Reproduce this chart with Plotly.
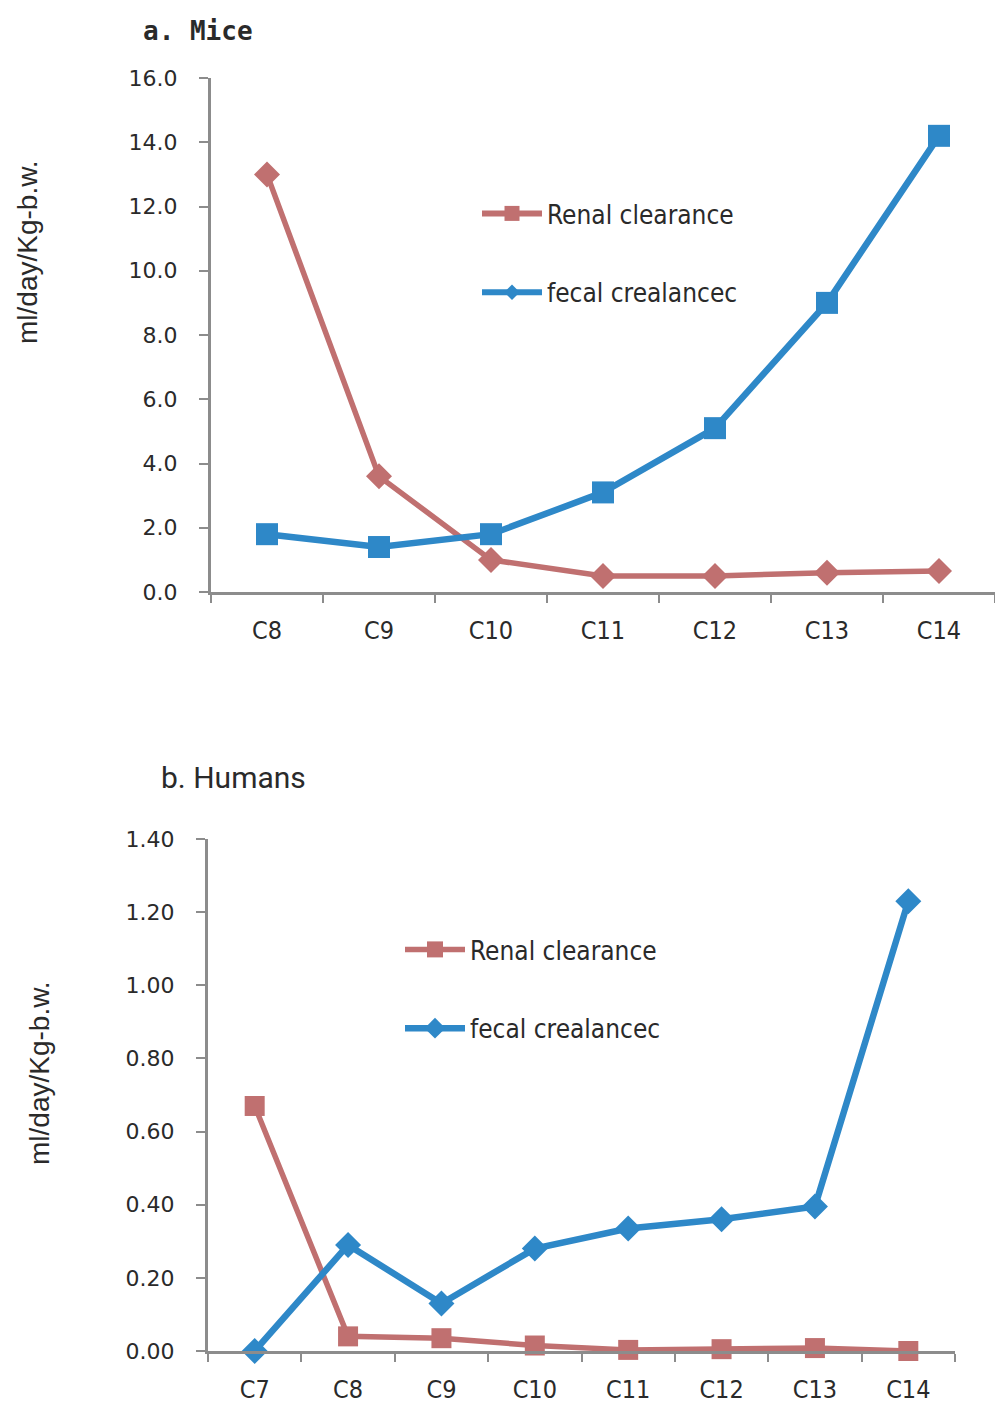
import plotly.graph_objects as go

W, H = 995, 1404

# ---- data ----
mice_cats = ["C8", "C9", "C10", "C11", "C12", "C13", "C14"]
mice_renal = [13.0, 3.6, 1.0, 0.5, 0.5, 0.6, 0.65]
mice_fecal = [1.8, 1.4, 1.8, 3.1, 5.1, 9.0, 14.2]

human_cats = ["C7", "C8", "C9", "C10", "C11", "C12", "C13", "C14"]
human_renal = [0.67, 0.04, 0.035, 0.015, 0.003, 0.005, 0.008, 0.0]
human_fecal = [0.0, 0.29, 0.13, 0.28, 0.335, 0.36, 0.395, 1.23]

series_names = ["Renal clearance", "fecal crealancec"]
y_title = "ml/day/Kg-b.w."
titles = ["a. Mice", "b. Humans"]

RED = "#C07070"
BLUE = "#2E88C8"
AXIS = "#8C8C8C"
TXT = "#2a2a2a"

def px_x(p):
    return p / W

def px_y(p):
    return 1 - p / H

fig = go.Figure()

# top: data traces (markers differ from legend in the original)
fig.add_trace(go.Scatter(x=mice_cats, y=mice_renal, mode="lines+markers",
                         line=dict(color=RED, width=5.5),
                         marker=dict(symbol="diamond", size=20, color=RED),
                         showlegend=False, cliponaxis=False,
                         xaxis="x", yaxis="y"))
fig.add_trace(go.Scatter(x=mice_cats, y=mice_fecal, mode="lines+markers",
                         line=dict(color=BLUE, width=6.5),
                         marker=dict(symbol="square", size=22, color=BLUE),
                         showlegend=False, cliponaxis=False,
                         xaxis="x", yaxis="y"))
# top legend entries
fig.add_trace(go.Scatter(x=[None], y=[None], mode="lines+markers", name=series_names[0],
                         line=dict(color=RED, width=6),
                         marker=dict(symbol="square", size=15, color=RED),
                         legend="legend", legendgroup="a1", xaxis="x", yaxis="y"))
fig.add_trace(go.Scatter(x=[None], y=[None], mode="lines+markers", name=series_names[1],
                         line=dict(color=BLUE, width=6),
                         marker=dict(symbol="diamond", size=12, color=BLUE),
                         legend="legend", legendgroup="a2", xaxis="x", yaxis="y"))

# bottom
fig.add_trace(go.Scatter(x=human_cats, y=human_renal, mode="lines+markers", name=series_names[0],
                         line=dict(color=RED, width=5.5),
                         marker=dict(symbol="square", size=20, color=RED),
                         legend="legend2", legendgroup="b1", cliponaxis=False,
                         xaxis="x2", yaxis="y2"))
fig.add_trace(go.Scatter(x=human_cats, y=human_fecal, mode="lines+markers", name=series_names[1],
                         line=dict(color=BLUE, width=6.5),
                         marker=dict(symbol="diamond", size=20, color=BLUE),
                         legend="legend2", legendgroup="b2", cliponaxis=False,
                         xaxis="x2", yaxis="y2"))

tickfont_y = dict(family="DejaVu Sans, Verdana, sans-serif", size=22, color=TXT)
tickfont_x = dict(family="Liberation Sans Narrow, DejaVu Sans Condensed, sans-serif", size=25, color=TXT)
legfont = dict(family="Liberation Sans Narrow, DejaVu Sans Condensed, sans-serif", size=26, color=TXT)

common_x = dict(type="category", showline=True, linecolor=AXIS, linewidth=3,
                ticks="outside", tickson="boundaries", ticklen=8, tickwidth=2,
                tickcolor=AXIS, tickfont=tickfont_x, showgrid=False, zeroline=False,
                automargin=False, ticklabelstandoff=14)
common_y = dict(showline=True, linecolor=AXIS, linewidth=3, ticks="outside",
                ticklen=9, tickwidth=2, tickcolor=AXIS, tickfont=tickfont_y,
                showgrid=False, zeroline=False, automargin=False, ticklabelstandoff=17)

fig.update_layout(
    width=W, height=H,
    margin=dict(l=0, r=0, t=0, b=0),
    paper_bgcolor="white", plot_bgcolor="white",
    xaxis=dict(common_x, domain=[px_x(211), 1.0], range=[-0.5, 6.5], anchor="y"),
    yaxis=dict(common_y, domain=[px_y(592), px_y(78)], range=[0, 16], dtick=2,
               tickformat=".1f", anchor="x"),
    xaxis2=dict(common_x, domain=[px_x(208), px_x(955)], range=[-0.5, 7.5], anchor="y2"),
    yaxis2=dict(common_y, domain=[px_y(1351), px_y(839)], range=[0, 1.4], dtick=0.2,
                tickformat=".2f", anchor="x2"),
    legend=dict(x=px_x(477), y=px_y(190), xanchor="left", yanchor="top",
                font=legfont, bgcolor="rgba(0,0,0,0)", traceorder="grouped",
                tracegroupgap=42, itemwidth=60),
    legend2=dict(x=px_x(400), y=px_y(926), xanchor="left", yanchor="top",
                 font=legfont, bgcolor="rgba(0,0,0,0)", traceorder="grouped",
                 tracegroupgap=42, itemwidth=60),
    annotations=[
        dict(text="<b>" + titles[0] + "</b>", x=px_x(198), y=px_y(31), xref="paper", yref="paper",
             showarrow=False, xanchor="center", yanchor="middle",
             font=dict(family="DejaVu Sans Mono, monospace", size=26, color=TXT)),
        dict(text=titles[1], x=px_x(233), y=px_y(777), xref="paper", yref="paper",
             showarrow=False, xanchor="center", yanchor="middle",
             font=dict(family="Roboto, sans-serif", size=30, color=TXT)),
        dict(text=y_title, x=px_x(27), y=px_y(252), xref="paper", yref="paper",
             showarrow=False, textangle=-90, xanchor="center", yanchor="middle",
             font=dict(family="Liberation Sans, Arial, sans-serif", size=28, color=TXT)),
        dict(text=y_title, x=px_x(39), y=px_y(1073), xref="paper", yref="paper",
             showarrow=False, textangle=-90, xanchor="center", yanchor="middle",
             font=dict(family="Liberation Sans, Arial, sans-serif", size=28, color=TXT)),
    ],
)

fig.write_html("out.html")
